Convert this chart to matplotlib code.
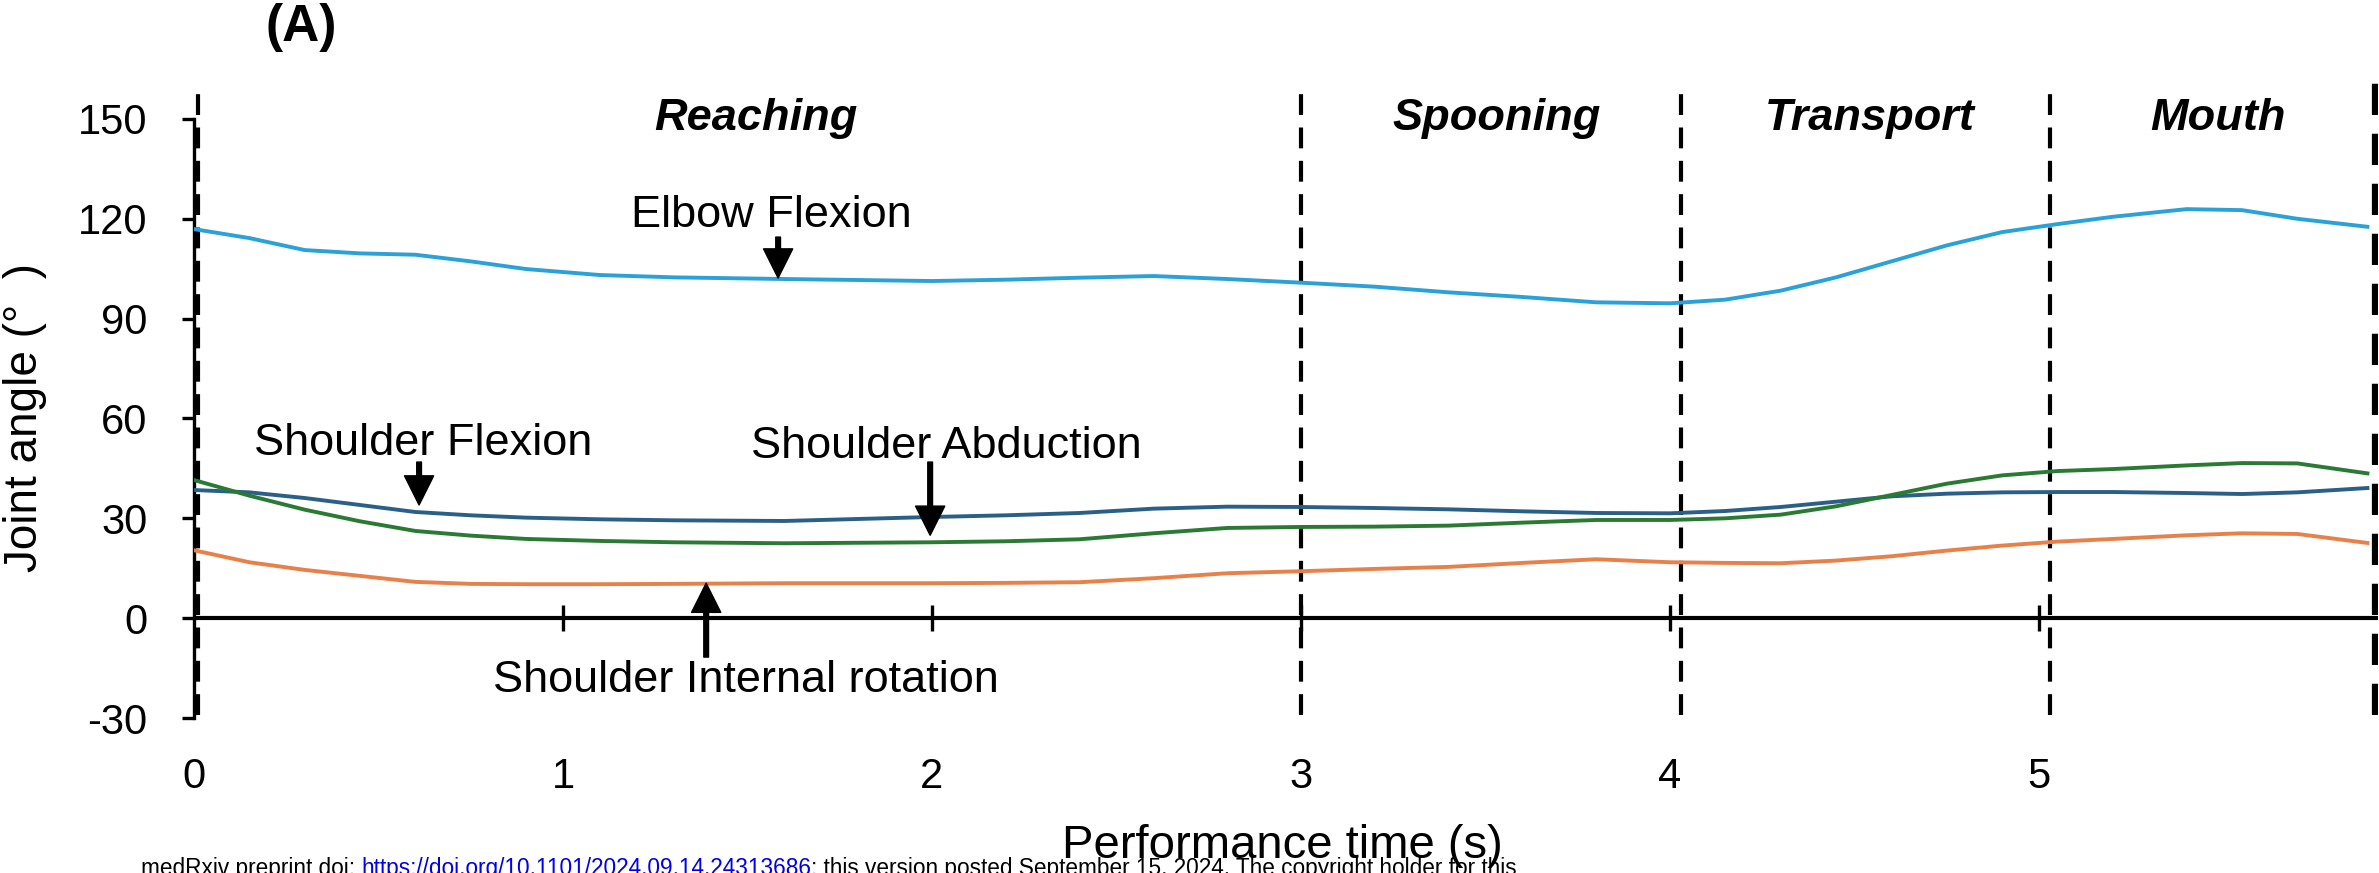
import matplotlib
matplotlib.use("Agg")
import matplotlib.pyplot as plt

plt.rcParams['font.family'] = ['Liberation Sans', 'DejaVu Sans']

# --- data (time in s, angles in degrees) ---
time_s = [0, 0.15, 0.3, 0.45, 0.6, 0.75, 0.9, 1.1, 1.3, 1.6, 2.0, 2.2, 2.4, 2.6, 2.8, 3.0, 3.2,
          3.4, 3.6, 3.8, 4.0, 4.15, 4.3, 4.45, 4.6, 4.75, 4.9, 5.05, 5.2, 5.4, 5.55, 5.7, 5.89]

elbow_flexion = [116.9, 114.2, 110.6, 109.6, 109.2, 107.2, 104.9, 103.1, 102.4, 101.9, 101.3, 101.7,
                 102.3, 102.8, 101.9, 100.8, 99.6, 97.9, 96.5, 94.9, 94.6, 95.7, 98.4, 102.4, 107.2,
                 112.0, 116.0, 118.4, 120.6, 122.9, 122.6, 120.0, 117.6]

shoulder_flexion = [38.5, 37.8, 36.1, 34.0, 31.9, 30.9, 30.2, 29.7, 29.4, 29.2, 30.4, 30.9, 31.6,
                    32.9, 33.5, 33.4, 33.1, 32.7, 32.1, 31.6, 31.5, 32.2, 33.4, 35.0, 36.6, 37.4,
                    37.8, 37.9, 37.9, 37.6, 37.3, 37.8, 39.1]

shoulder_abduction = [41.5, 36.8, 32.6, 29.1, 26.2, 24.8, 23.8, 23.2, 22.8, 22.5, 22.8, 23.1, 23.7,
                      25.5, 27.1, 27.4, 27.5, 27.8, 28.7, 29.5, 29.5, 30.0, 31.1, 33.6, 37.0, 40.4,
                      42.9, 44.2, 44.8, 45.9, 46.6, 46.5, 43.5]

shoulder_int_rot = [20.4, 16.8, 14.5, 12.7, 10.9, 10.3, 10.2, 10.2, 10.3, 10.5, 10.5, 10.6, 10.8,
                    12.0, 13.5, 14.1, 14.8, 15.4, 16.6, 17.7, 16.8, 16.6, 16.5, 17.3, 18.6, 20.3,
                    21.8, 23.0, 23.8, 24.9, 25.5, 25.3, 22.6]

phase_names = ['Reaching', 'Spooning', 'Transport', 'Mouth']
phase_label_x = [1.523, 3.53, 4.54, 5.485]
phase_bounds = [0.01, 3.0, 4.03, 5.03, 5.91]

x_ticks = [0, 1, 2, 3, 4, 5]
y_ticks = [-30, 0, 30, 60, 90, 120, 150]

# label text, text x, text baseline y, arrow x, arrow tail y, arrow tip y
annotations = [
    ('Elbow Flexion', 1.564, 117.5, 1.583, 114.5, 102.2),
    ('Shoulder Flexion', 0.62, 49.0, 0.61, 46.9, 34.0),
    ('Shoulder Abduction', 2.04, 48.1, 1.995, 46.9, 24.9),
    ('Shoulder Internal rotation', 1.496, -22.2, 1.388, -11.7, 10.5),
]

W, H = 2379, 873
fig = plt.figure(figsize=(W / 100, H / 100), dpi=100)
ax = fig.add_axes([194 / W, (H - 718) / H, 5.92 * 369 / W, (718 - 79) / H])
ax.set_xlim(0, 5.92)
ax.set_ylim(-30, 162)

# series
ax.plot(time_s, elbow_flexion, color='#2aa2d8', lw=2.8, zorder=3)
ax.plot(time_s, shoulder_flexion, color='#2a5f88', lw=2.8, zorder=3)
ax.plot(time_s, shoulder_abduction, color='#2a7a34', lw=2.8, zorder=3)
ax.plot(time_s, shoulder_int_rot, color='#e8804a', lw=2.8, zorder=3)

# phase boundaries
for i, xb in enumerate(phase_bounds):
    ax.vlines(xb, -29, 161, colors='black', lw=4.5 if i == len(phase_bounds) - 1 else 3.0,
              linestyles=(0, (5.0, 3.0)), zorder=2)

for name, xp in zip(phase_names, phase_label_x):
    ax.text(xp, 146.7, name, ha='center', va='baseline', fontsize=32.5,
            fontweight='bold', fontstyle='italic')

# zero line with crossing ticks
ax.axhline(0, color='black', lw=3.0, zorder=2)
ax.vlines(x_ticks[1:], -4, 4, colors='black', lw=2.4, zorder=2)

# arrows and labels
for label, tx, ty, axx, tail, tip in annotations:
    ax.text(tx, ty, label, ha='center', va='baseline', fontsize=32.5)
    ax.annotate('', xy=(axx, tip), xytext=(axx, tail),
                arrowprops=dict(facecolor='black', edgecolor='black', width=3.4,
                                headwidth=21, headlength=21, shrink=0))

# axes styling
for s in ['top', 'right', 'bottom']:
    ax.spines[s].set_visible(False)
ax.spines['left'].set_bounds(-30, 150)
ax.spines['left'].set_linewidth(2.4)
ax.set_yticks(y_ticks)
ax.set_yticklabels([str(v) for v in y_ticks])
ax.tick_params(axis='y', direction='out', length=8.5, width=2.4, pad=25, labelsize=30)
ax.set_xticks(x_ticks)
ax.set_xticklabels([str(v) for v in x_ticks])
ax.tick_params(axis='x', length=0, pad=28, labelsize=30)

fig.text(25 / W, (H - 417) / H, 'Joint angle (°  )', rotation=90, ha='center', va='center',
         fontsize=33)
fig.text(1282 / W, (H - 858) / H, 'Performance time (s)', ha='center', va='baseline',
         fontsize=34)
fig.text(301 / W, (H - 27) / H, '(A)', ha='center', va='center', fontsize=37,
         fontweight='bold')

# preprint footer along the bottom edge
footer_parts = [('medRxiv preprint doi: ', 'black'),
                ('https://doi.org/10.1101/2024.09.14.24313686', '#0000ee'),
                ('; this version posted September 15, 2024. The copyright holder for this', 'black')]
fig.canvas.draw()
renderer = fig.canvas.get_renderer()
x_px = 141
for txt, col in footer_parts:
    t = fig.text(x_px / W, (H - 857) / H, txt, color=col, ha='left', va='top', fontsize=16.3)
    bb = t.get_window_extent(renderer=renderer)
    x_px = bb.x1

fig.savefig('out.png', dpi=100)
